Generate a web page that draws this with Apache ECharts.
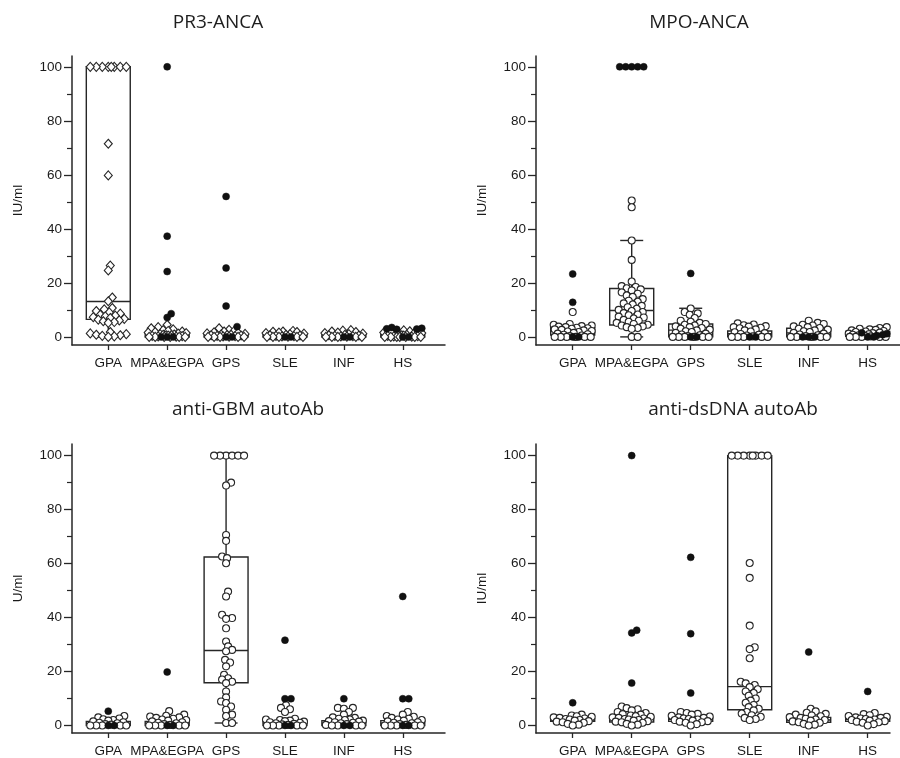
<!DOCTYPE html>
<html><head><meta charset="utf-8">
<script src="https://cdn.jsdelivr.net/npm/echarts@6/dist/echarts.min.js"></script>
<style>html,body{margin:0;padding:0;background:#fff}#c{width:900px;height:758px}</style>
</head><body><div id="c"></div>
<script>
const categories = ['GPA', 'MPA&EGPA', 'GPS', 'SLE', 'INF', 'HS'];
const yTickLabels = [0, 20, 40, 60, 80, 100];
const yMinorTicks = [10, 30, 50, 70, 90];

// box stats per category: [whisker low, Q1, median, Q3, whisker high]
const pr3Box = [[0, 6.5, 13.1, 100, 100], [0, 0, 0.3, 1.3, 1.3], [0, 0, 0.3, 1.0, 1.0], [0, 0, 0.2, 0.8, 0.8], [0, 0, 0.2, 0.8, 0.8], [0, 0, 0.3, 0.9, 0.9]];
const pr3Open = [
  [100, 100, 100, 100, 100, 100, 100, 100, 71.5, 59.8, 26.4, 24.6, 14.6, 13.2, 10.7, 10.2, 9.6, 9.1, 8.6, 8.2, 7.9, 7.6, 7.3, 7.0, 6.7, 6.4, 6.1, 5.8, 5.5, 5.2, 1.8, 1.3, 1.0, 0.8, 0.6, 0.4, 0.2, 0],
  [4.5, 3.6, 3.2, 2.8, 2.5, 2.2, 2.0, 1.8, 1.6, 1.4, 1.2, 1.0, 0.9, 0.8, 0.7, 0.6, 0.5, 0.4, 0.3, 0.2, 0.1, 0, 0, 0, 0, 0, 0],
  [3.2, 2.6, 2.2, 2.0, 1.7, 1.5, 1.3, 1.1, 0.9, 0.8, 0.7, 0.6, 0.5, 0.4, 0.3, 0.2, 0.1, 0, 0, 0, 0, 0],
  [2.2, 2.0, 1.9, 1.8, 1.6, 1.4, 1.2, 1.0, 0.8, 0.6, 0.5, 0.4, 0.3, 0.2, 0.1, 0, 0, 0, 0, 0],
  [2.5, 2.3, 2.0, 1.8, 1.6, 1.4, 1.2, 1.0, 0.8, 0.6, 0.5, 0.4, 0.3, 0.2, 0.1, 0, 0, 0, 0, 0],
  [2.4, 2.1, 1.8, 1.6, 1.4, 1.2, 1.0, 0.8, 0.6, 0.5, 0.4, 0.3, 0.2, 0.1, 0, 0, 0, 0, 0, 0, 0]
];
const pr3Filled = [[], [100, 37.3, 24.2, 8.6, 7.2, 0, 0, 0], [52, 25.5, 11.4, 3.8, 0, 0], [0, 0], [0, 0], [3.5, 3.2, 3.0, 2.9, 2.8, 0, 0]];

const mpoBox = [[0.7, 0.7, 2.1, 3.4, 3.4], [0, 4.4, 9.8, 17.9, 35.7], [0, 0, 2.5, 4.8, 10.6], [0, 0, 1.2, 2.2, 2.2], [0, 0, 1.5, 3.2, 3.2], [0.2, 0.2, 1.0, 2.0, 2.0]];
const mpoOpen = [
  [9.2, 4.8, 4.5, 4.2, 4.0, 3.8, 3.6, 3.4, 3.2, 3.0, 2.8, 2.6, 2.4, 2.2, 2.0, 1.8, 1.5, 1.2, 1.0, 0.8, 0.5, 0.3, 0, 0, 0, 0, 0, 0],
  [50.5, 48, 35.7, 28.5, 20.5, 18.8, 18.5, 18, 17.6, 17.2, 16.5, 16, 15.3, 14.8, 14, 13.4, 13, 12.4, 12, 11.5, 11, 10.4, 10, 9.6, 9.2, 8.8, 8.3, 8, 7.5, 7.2, 6.8, 6.3, 6, 5.6, 5.2, 4.8, 4.5, 4.2, 3.9, 3.6, 3.3, 3.0, 0, 0],
  [10.5, 9.2, 8.7, 8.2, 7.0, 6.0, 5.6, 5.2, 4.8, 4.5, 4.2, 3.9, 3.6, 3.3, 3.0, 2.7, 2.4, 2.1, 1.8, 1.5, 1.2, 0.9, 0.6, 0.3, 0, 0, 0, 0, 0, 0],
  [5.0, 4.6, 4.3, 4.0, 3.8, 3.6, 3.4, 3.2, 2.8, 2.4, 2.0, 1.7, 1.4, 1.1, 0.8, 0.5, 0.2, 0, 0, 0, 0, 0],
  [6.0, 5.2, 4.8, 4.5, 4.2, 3.9, 3.6, 3.3, 3.0, 2.7, 2.4, 2.1, 1.8, 1.5, 1.2, 0.9, 0.6, 0.3, 0, 0, 0, 0, 0],
  [3.6, 3.3, 3.0, 2.8, 2.6, 2.4, 2.2, 2.0, 1.8, 1.6, 1.4, 1.2, 1.0, 0.8, 0.6, 0.4, 0.2, 0, 0, 0, 0, 0]
];
const mpoFilled = [[23.3, 12.8, 0, 0], [100, 100, 100, 100, 100], [23.5, 0, 0], [0, 0], [0, 0, 0], [1.5, 1.2, 0.8, 0.5, 0, 0]];

const gbmBox = [[0, 0, 0.5, 1.5, 1.5], [0, 0, 0.5, 1.5, 1.5], [0.9, 15.8, 27.8, 62.4, 100], [0, 0, 0.7, 1.8, 1.8], [0, 0, 0.7, 1.8, 1.8], [0, 0, 0.8, 1.8, 1.8]];
const gbmOpen = [
  [3.5, 3.0, 2.6, 2.3, 2.0, 1.8, 1.5, 1.2, 1.0, 0.8, 0.5, 0.3, 0, 0, 0, 0, 0],
  [5.3, 4.0, 3.6, 3.3, 3.0, 2.8, 2.5, 2.2, 2.0, 1.8, 1.5, 1.2, 1.0, 0.8, 0.5, 0.2, 0, 0, 0, 0, 0],
  [100, 100, 100, 100, 100, 100, 90, 88.9, 70.6, 68.4, 62.6, 62, 60.1, 49.6, 47.8, 41, 39.8, 39.5, 36, 31.1, 29.3, 28, 27.5, 24.3, 23.3, 21.9, 18.8, 17.5, 17, 16.2, 15.7, 12.6, 10.4, 8.9, 8.3, 7, 5.8, 4, 3.5, 0.9, 0.9],
  [7.5, 6.5, 6.0, 5.0, 2.5, 2.2, 2.0, 1.8, 1.6, 1.4, 1.2, 1.0, 0.8, 0.6, 0.4, 0.2, 0, 0, 0, 0, 0],
  [6.5, 6.5, 6.2, 5.0, 4.0, 3.0, 2.8, 2.5, 2.2, 2.0, 1.8, 1.6, 1.4, 1.2, 1.0, 0.8, 0.5, 0.2, 0, 0, 0, 0],
  [5.0, 4.0, 3.5, 3.2, 2.8, 2.5, 2.2, 2.0, 1.8, 1.5, 1.2, 1.0, 0.8, 0.5, 0.2, 0, 0, 0, 0, 0]
];
const gbmFilled = [[5.3, 0, 0], [19.8, 0, 0], [], [31.6, 9.9, 9.9, 0, 0], [9.9, 0, 0], [47.8, 9.9, 9.9, 0, 0]];

const dsBox = [[1.5, 1.5, 2.0, 2.4, 2.4], [0, 1.3, 2.3, 3.1, 5.2], [0.5, 1.5, 2.3, 3.0, 3.0], [5.8, 5.8, 14.4, 100, 100], [1.2, 1.2, 2.0, 3.0, 3.0], [1.5, 1.5, 2.3, 3.0, 3.0]];
const dsOpen = [
  [4.0, 3.7, 3.4, 3.2, 3.0, 2.8, 2.6, 2.4, 2.2, 2.0, 1.8, 1.6, 1.4, 1.2, 1.0, 0.6, 0.3, 0],
  [7.0, 6.4, 6.0, 5.6, 5.0, 4.6, 4.2, 4.0, 3.7, 3.4, 3.2, 3.0, 2.8, 2.6, 2.4, 2.2, 2.0, 1.8, 1.6, 1.4, 1.2, 1.0, 0.6, 0.3, 0],
  [5.0, 4.6, 4.3, 4.0, 3.6, 3.3, 3.0, 2.8, 2.6, 2.4, 2.2, 2.0, 1.8, 1.6, 1.4, 1.2, 1.0, 0.5, 0],
  [100, 100, 100, 100, 100, 100, 100, 100, 60.2, 54.7, 37, 29, 28.3, 24.9, 16.2, 15.6, 15, 14.2, 13.4, 12.6, 12, 11, 10, 9.2, 8.4, 7.6, 6.8, 6.2, 5.6, 5.0, 4.4, 3.8, 3.2, 2.8, 2.4, 2.0],
  [6.2, 5.2, 4.7, 4.3, 4.0, 3.7, 3.4, 3.1, 2.8, 2.5, 2.2, 2.0, 1.8, 1.5, 1.2, 1.0, 0.6, 0.3, 0],
  [4.6, 4.2, 3.8, 3.5, 3.2, 3.0, 2.8, 2.6, 2.4, 2.2, 2.0, 1.8, 1.6, 1.4, 1.2, 1.0, 0.5, 0]
];
const dsFilled = [[8.4], [100, 35.3, 34.3, 15.7], [62.3, 34, 12], [], [27.2], [12.6]];

const panels = [
  { title: 'PR3-ANCA', yName: 'IU/ml', box: pr3Box, open: pr3Open, filled: pr3Filled, symbol: 'diamond' },
  { title: 'MPO-ANCA', yName: 'IU/ml', box: mpoBox, open: mpoOpen, filled: mpoFilled, symbol: 'circle' },
  { title: 'anti-GBM autoAb', yName: 'U/ml', box: gbmBox, open: gbmOpen, filled: gbmFilled, symbol: 'circle' },
  { title: 'anti-dsDNA autoAb', yName: 'IU/ml', box: dsBox, open: dsOpen, filled: dsFilled, symbol: 'circle' }
];

// layout (positions/sizes only)
const layouts = [
  { grid: { left: 72, top: 56, width: 373, height: 289 }, xMin: -0.616, xMax: 5.717, yMin: -3, yMax: 104, tx: 218, ty: 23 },
  { grid: { left: 536, top: 56, width: 364, height: 289 }, xMin: -0.622, xMax: 5.547, yMin: -3, yMax: 104, tx: 699, ty: 23 },
  { grid: { left: 72, top: 444, width: 373, height: 289 }, xMin: -0.616, xMax: 5.717, yMin: -2.8, yMax: 104.3, tx: 248, ty: 410 },
  { grid: { left: 536, top: 444, width: 354, height: 289 }, xMin: -0.622, xMax: 5.378, yMin: -2.8, yMax: 104.3, tx: 733, ty: 410 }
];

const INK = '#262626';
const LBL = { fontFamily: 'Liberation Sans, Arial, sans-serif', fontSize: 13.5, color: '#1a1a1a' };

// beeswarm: horizontal pixel offsets so markers do not overlap (filled points first on ties)
function swarm(vals, pyu, D, maxHalf) {
  const order = vals.map((v, i) => i).sort((a, b) => vals[a] - vals[b] || a - b);
  const placed = [];
  const offs = new Array(vals.length).fill(0);
  for (const i of order) {
    const y = vals[i] * pyu;
    let chosen = null, best = 0, bestD = -1;
    for (let k = 0; k <= 2 * maxHalf; k++) {
      const o = (k % 2 === 1) ? (k + 1) / 2 : -k / 2;
      let md = Infinity;
      for (const q of placed) { const d = Math.hypot(q[0] - o, q[1] - y); if (d < md) md = d; }
      if (md >= D) { chosen = o; break; }
      if (md > bestD) { bestD = md; best = o; }
    }
    if (chosen === null) chosen = best;
    offs[i] = chosen;
    placed.push([chosen, y]);
  }
  return offs;
}

function renderBox(params, api) {
  const x = api.value(0), lo = api.value(1), q1 = api.value(2), med = api.value(3), q3 = api.value(4), hi = api.value(5);
  const hw = 0.373, cw = 0.195;
  const st = { stroke: INK, lineWidth: 1.4, fill: 'none' };
  const a = api.coord([x - hw, q3]), b = api.coord([x + hw, q1]);
  const m1 = api.coord([x - hw, med]), m2 = api.coord([x + hw, med]);
  const ch = [
    { type: 'rect', shape: { x: a[0], y: a[1], width: b[0] - a[0], height: b[1] - a[1] }, style: st },
    { type: 'line', shape: { x1: m1[0], y1: m1[1], x2: m2[0], y2: m2[1] }, style: st }
  ];
  const whisk = (from, to) => {
    const p1 = api.coord([x, from]), p2 = api.coord([x, to]);
    const c1 = api.coord([x - cw, to]), c2 = api.coord([x + cw, to]);
    ch.push({ type: 'line', shape: { x1: p1[0], y1: p1[1], x2: p2[0], y2: p2[1] }, style: st });
    ch.push({ type: 'line', shape: { x1: c1[0], y1: c1[1], x2: c2[0], y2: c2[1] }, style: st });
  };
  if (hi > q3) whisk(q3, hi);
  if (lo < q1) whisk(q1, lo);
  return { type: 'group', children: ch };
}

const grids = [], xAxes = [], yAxes = [], series = [], graphics = [];
panels.forEach((p, pi) => {
  const L = layouts[pi];
  grids.push(Object.assign({ containLabel: false }, L.grid));
  const pxu = L.grid.width / (L.xMax - L.xMin);
  const pyu = L.grid.height / (L.yMax - L.yMin);
  xAxes.push({
    type: 'value', gridIndex: pi, min: L.xMin, max: L.xMax,
    axisLine: { show: true, onZero: false, lineStyle: { color: INK, width: 1.5 } },
    axisTick: { show: true, customValues: [0, 1, 2, 3, 4, 5], length: 5, lineStyle: { color: INK, width: 1.3 } },
    axisLabel: Object.assign({ customValues: [0, 1, 2, 3, 4, 5], margin: 11, formatter: v => categories[Math.round(v)] }, LBL),
    splitLine: { show: false }
  });
  yAxes.push({
    type: 'value', gridIndex: pi, min: L.yMin, max: L.yMax,
    name: p.yName, nameLocation: 'middle', nameGap: 47,
    nameTextStyle: { fontFamily: LBL.fontFamily, fontSize: 13.5, color: '#1a1a1a' },
    axisLine: { show: true, onZero: false, lineStyle: { color: INK, width: 1.5 } },
    axisTick: { show: true, customValues: yTickLabels, length: 8, lineStyle: { color: INK, width: 1.3 } },
    axisLabel: Object.assign({ customValues: yTickLabels, margin: 10 }, LBL),
    splitLine: { show: false }
  });
  yAxes.push({
    type: 'value', gridIndex: pi, min: L.yMin, max: L.yMax, position: 'left',
    axisLine: { show: false, onZero: false },
    axisTick: { show: true, customValues: yMinorTicks, length: 5, lineStyle: { color: INK, width: 1.2 } },
    axisLabel: { show: false }, splitLine: { show: false }
  });
  series.push({
    type: 'custom', xAxisIndex: pi, yAxisIndex: pi * 2, renderItem: renderBox, silent: true, z: 2,
    data: p.box.map((b, i) => [i].concat(b)),
    encode: { x: 0, y: [1, 2, 3, 4, 5] }
  });
  const openPts = [], filledPts = [];
  categories.forEach((c, ci) => {
    const nf = p.filled[ci].length;
    const vals = p.filled[ci].concat(p.open[ci]);
    const offs = swarm(vals, pyu, 5.2, 19);
    vals.forEach((v, k) => {
      const pt = [ci + offs[k] / pxu, v];
      if (k < nf) filledPts.push(pt); else openPts.push(pt);
    });
  });
  series.push({
    type: 'scatter', xAxisIndex: pi, yAxisIndex: pi * 2, data: openPts, silent: true, z: 3,
    symbol: p.symbol, symbolSize: p.symbol === 'diamond' ? [8, 9] : 7,
    itemStyle: { color: '#ffffff', borderColor: INK, borderWidth: 1.1, opacity: 1 }
  });
  series.push({
    type: 'scatter', xAxisIndex: pi, yAxisIndex: pi * 2, data: filledPts, silent: true, z: 4,
    symbol: 'circle', symbolSize: 7,
    itemStyle: { color: '#111111', borderColor: '#111111', borderWidth: 0.5, opacity: 1 }
  });
  graphics.push({
    type: 'text', x: L.tx, y: L.ty,
    style: { text: p.title, fontFamily: 'Open Sans, sans-serif', fontSize: 19, fill: '#1e1e1e', align: 'center', verticalAlign: 'middle' }
  });
});

const chart = echarts.init(document.getElementById('c'), null, { renderer: 'canvas' });
chart.setOption({
  backgroundColor: '#ffffff',
  animation: false,
  grid: grids, xAxis: xAxes, yAxis: yAxes, series: series, graphic: graphics
});
</script>
</body></html>
